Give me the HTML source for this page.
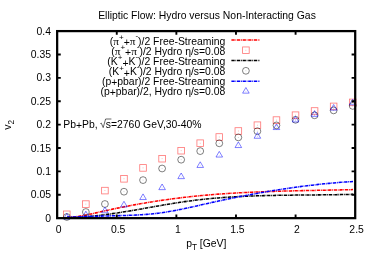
<!DOCTYPE html>
<html><head><meta charset="utf-8"><style>
html,body{margin:0;padding:0;background:#fff;}
svg{display:block;opacity:0.999;will-change:transform;}
text{font-family:"Liberation Sans",sans-serif;font-size:10.4px;fill:#000;}
</style></head><body>
<svg width="374" height="262" viewBox="0 0 374 262">
<rect width="374" height="262" fill="#fff"/>
<text x="207.0" y="19.3" text-anchor="middle">Elliptic Flow: Hydro versus Non-Interacting Gas</text>
<text x="51" y="221.75" text-anchor="end">0</text>
<text x="51" y="198.37" text-anchor="end">0.05</text>
<text x="51" y="174.99" text-anchor="end">0.1</text>
<text x="51" y="151.61" text-anchor="end">0.15</text>
<text x="51" y="128.22" text-anchor="end">0.2</text>
<text x="51" y="104.84" text-anchor="end">0.25</text>
<text x="51" y="81.46" text-anchor="end">0.3</text>
<text x="51" y="58.08" text-anchor="end">0.35</text>
<text x="51" y="34.70" text-anchor="end">0.4</text>
<text x="58.55" y="233.15" text-anchor="middle">0</text>
<text x="118.16" y="233.15" text-anchor="middle">0.5</text>
<text x="177.77" y="233.15" text-anchor="middle">1</text>
<text x="237.38" y="233.15" text-anchor="middle">1.5</text>
<text x="296.99" y="233.15" text-anchor="middle">2</text>
<text x="356.60" y="233.15" text-anchor="middle">2.5</text>
<text x="206.3" y="246.9" text-anchor="middle">p<tspan font-size="8.2" dy="2.6">T</tspan><tspan dy="-2.6"> [GeV]</tspan></text>
<text transform="translate(10.7,124.9) rotate(-90)" text-anchor="middle">v<tspan font-size="8.2" dy="3">2</tspan></text>
<text x="63.3" y="127.8">Pb<tspan dy="1.2">+</tspan><tspan dy="-1.2">Pb,</tspan></text>
<path d="M100.3,123.6 L101.3,123.1 L103.2,127.6 L105.6,119.0 H111.4" fill="none" stroke="#000" stroke-width="0.6"/>
<text x="105.8" y="127.8">s=2760 GeV,30-40%</text>
<text x="225.3" y="44.75" text-anchor="end">(<tspan font-family="Liberation Serif" font-size="11.3">π</tspan><tspan font-size="8" dy="-4.85">+</tspan><tspan dy="6.05">+</tspan><tspan dy="-1.2"><tspan font-family="Liberation Serif" font-size="11.3">π</tspan></tspan><tspan font-size="8" dy="-6.4">-</tspan><tspan dy="6.4">)</tspan>/2 Free-Streaming</text>
<text x="225.3" y="55.00" text-anchor="end">(<tspan font-family="Liberation Serif" font-size="11.3">π</tspan><tspan font-size="8" dy="-4.85">+</tspan><tspan dy="6.05">+</tspan><tspan dy="-1.2"><tspan font-family="Liberation Serif" font-size="11.3">π</tspan></tspan><tspan font-size="8" dy="-6.4">-</tspan><tspan dy="6.4">)</tspan>/2 Hydro η/s=0.08</text>
<text x="225.3" y="65.30" text-anchor="end">(K<tspan font-size="8" dy="-4.85">+</tspan><tspan dy="6.05">+</tspan><tspan dy="-1.2">K</tspan><tspan font-size="8" dy="-6.4">-</tspan><tspan dy="6.4">)</tspan>/2 Free-Streaming</text>
<text x="225.3" y="75.35" text-anchor="end">(K<tspan font-size="8" dy="-4.85">+</tspan><tspan dy="6.05">+</tspan><tspan dy="-1.2">K</tspan><tspan font-size="8" dy="-6.4">-</tspan><tspan dy="6.4">)</tspan>/2 Hydro η/s=0.08</text>
<text x="225.3" y="85.10" text-anchor="end">(p<tspan dy="1.2">+</tspan><tspan dy="-1.2">pbar)</tspan>/2 Free-Streaming</text>
<text x="225.3" y="95.15" text-anchor="end">(p<tspan dy="1.2">+</tspan><tspan dy="-1.2">pbar)</tspan>/2, Hydro η/s=0.08</text>
<path d="M231.4,40.0 H259.8" stroke="#f00" stroke-width="1.55" stroke-dasharray="3.3 0.75 0.8 0.75" fill="none"/>
<path d="M231.4,60.55 H259.8" stroke="#000" stroke-width="1.55" stroke-dasharray="3.3 0.75 0.8 0.75" fill="none"/>
<path d="M231.4,81.2 H259.8" stroke="#00f" stroke-width="1.55" stroke-dasharray="3.3 0.75 0.8 0.75" fill="none"/>
<rect x="242.60" y="46.95" width="6.6" height="6.6" fill="none" stroke="#f00" stroke-width="0.8" stroke-opacity="0.55"/><rect x="245.50" y="49.85" width="0.8" height="0.8" fill="#f00" opacity="0.4"/>
<circle cx="245.90" cy="70.80" r="3.4" fill="none" stroke="#000" stroke-width="0.5"/><rect x="245.50" y="70.40" width="0.8" height="0.8" fill="#000" opacity="0.25"/>
<path d="M245.90,87.50 L249.20,93.15 L242.60,93.15 Z" fill="none" stroke="#00f" stroke-width="0.5"/><rect x="245.50" y="91.10" width="0.8" height="0.8" fill="#00f" opacity="0.25"/>
<path d="M67.00,217.42 L69.40,217.32 L71.81,217.16 L74.21,216.92 L76.61,216.63 L79.02,216.28 L81.42,215.88 L83.82,215.44 L86.23,214.97 L88.63,214.47 L91.03,213.95 L93.44,213.41 L95.84,212.87 L98.24,212.31 L100.65,211.77 L103.05,211.22 L105.45,210.69 L107.86,210.16 L110.26,209.64 L112.66,209.13 L115.07,208.63 L117.47,208.13 L119.87,207.64 L122.28,207.16 L124.68,206.69 L127.08,206.22 L129.49,205.76 L131.89,205.31 L134.29,204.87 L136.70,204.43 L139.10,204.00 L141.50,203.58 L143.91,203.17 L146.31,202.76 L148.71,202.36 L151.12,201.97 L153.52,201.59 L155.92,201.21 L158.33,200.85 L160.73,200.49 L163.13,200.13 L165.54,199.79 L167.94,199.45 L170.34,199.12 L172.75,198.80 L175.15,198.49 L177.55,198.18 L179.96,197.88 L182.36,197.59 L184.76,197.31 L187.17,197.04 L189.57,196.77 L191.97,196.51 L194.38,196.26 L196.78,196.02 L199.18,195.78 L201.59,195.55 L203.99,195.33 L206.39,195.12 L208.80,194.91 L211.20,194.71 L213.61,194.51 L216.01,194.33 L218.41,194.14 L220.82,193.97 L223.22,193.80 L225.62,193.64 L228.03,193.48 L230.43,193.33 L232.83,193.18 L235.24,193.04 L237.64,192.90 L240.04,192.77 L242.45,192.64 L244.85,192.52 L247.25,192.40 L249.66,192.29 L252.06,192.18 L254.46,192.08 L256.87,191.98 L259.27,191.88 L261.67,191.79 L264.08,191.70 L266.48,191.61 L268.88,191.53 L271.29,191.45 L273.69,191.38 L276.09,191.30 L278.50,191.23 L280.90,191.16 L283.30,191.10 L285.71,191.03 L288.11,190.97 L290.51,190.91 L292.92,190.86 L295.32,190.80 L297.72,190.75 L300.13,190.69 L302.53,190.64 L304.93,190.59 L307.34,190.54 L309.74,190.49 L312.14,190.44 L314.55,190.40 L316.95,190.35 L319.35,190.30 L321.76,190.26 L324.16,190.21 L326.56,190.16 L328.97,190.12 L331.37,190.07 L333.77,190.02 L336.18,189.97 L338.58,189.92 L340.98,189.87 L343.39,189.82 L345.79,189.77 L348.19,189.71 L350.60,189.65 L353.00,189.60" stroke="#f00" stroke-width="1.55" stroke-dasharray="3.3 0.75 0.8 0.75" fill="none"/>
<path d="M67.00,217.63 L69.40,217.59 L71.81,217.53 L74.21,217.44 L76.61,217.33 L79.02,217.21 L81.42,217.06 L83.82,216.89 L86.23,216.71 L88.63,216.50 L91.03,216.28 L93.44,216.04 L95.84,215.79 L98.24,215.52 L100.65,215.24 L103.05,214.94 L105.45,214.63 L107.86,214.31 L110.26,213.98 L112.66,213.63 L115.07,213.28 L117.47,212.91 L119.87,212.54 L122.28,212.15 L124.68,211.77 L127.08,211.37 L129.49,210.97 L131.89,210.56 L134.29,210.15 L136.70,209.73 L139.10,209.31 L141.50,208.89 L143.91,208.46 L146.31,208.04 L148.71,207.61 L151.12,207.19 L153.52,206.76 L155.92,206.34 L158.33,205.92 L160.73,205.50 L163.13,205.08 L165.54,204.67 L167.94,204.27 L170.34,203.87 L172.75,203.48 L175.15,203.09 L177.55,202.71 L179.96,202.34 L182.36,201.98 L184.76,201.63 L187.17,201.29 L189.57,200.97 L191.97,200.65 L194.38,200.35 L196.78,200.05 L199.18,199.77 L201.59,199.50 L203.99,199.24 L206.39,199.00 L208.80,198.76 L211.20,198.53 L213.61,198.31 L216.01,198.11 L218.41,197.91 L220.82,197.72 L223.22,197.54 L225.62,197.37 L228.03,197.20 L230.43,197.05 L232.83,196.90 L235.24,196.77 L237.64,196.63 L240.04,196.51 L242.45,196.39 L244.85,196.28 L247.25,196.18 L249.66,196.08 L252.06,195.99 L254.46,195.91 L256.87,195.83 L259.27,195.75 L261.67,195.68 L264.08,195.62 L266.48,195.56 L268.88,195.50 L271.29,195.45 L273.69,195.40 L276.09,195.35 L278.50,195.31 L280.90,195.27 L283.30,195.24 L285.71,195.21 L288.11,195.18 L290.51,195.15 L292.92,195.12 L295.32,195.09 L297.72,195.07 L300.13,195.05 L302.53,195.03 L304.93,195.00 L307.34,194.98 L309.74,194.96 L312.14,194.94 L314.55,194.92 L316.95,194.90 L319.35,194.87 L321.76,194.85 L324.16,194.82 L326.56,194.80 L328.97,194.77 L331.37,194.74 L333.77,194.70 L336.18,194.67 L338.58,194.63 L340.98,194.58 L343.39,194.54 L345.79,194.49 L348.19,194.44 L350.60,194.38 L353.00,194.32" stroke="#000" stroke-width="1.55" stroke-dasharray="3.3 0.75 0.8 0.75" fill="none"/>
<path d="M67.00,217.00 L69.40,217.00 L71.81,216.98 L74.21,216.95 L76.61,216.90 L79.02,216.84 L81.42,216.78 L83.82,216.70 L86.23,216.62 L88.63,216.54 L91.03,216.45 L93.44,216.36 L95.84,216.28 L98.24,216.20 L100.65,216.12 L103.05,216.05 L105.45,215.98 L107.86,215.92 L110.26,215.86 L112.66,215.81 L115.07,215.75 L117.47,215.69 L119.87,215.63 L122.28,215.56 L124.68,215.49 L127.08,215.41 L129.49,215.32 L131.89,215.22 L134.29,215.12 L136.70,215.00 L139.10,214.86 L141.50,214.72 L143.91,214.55 L146.31,214.37 L148.71,214.17 L151.12,213.95 L153.52,213.71 L155.92,213.45 L158.33,213.16 L160.73,212.85 L163.13,212.51 L165.54,212.15 L167.94,211.77 L170.34,211.36 L172.75,210.94 L175.15,210.49 L177.55,210.03 L179.96,209.56 L182.36,209.07 L184.76,208.57 L187.17,208.05 L189.57,207.53 L191.97,207.00 L194.38,206.47 L196.78,205.93 L199.18,205.38 L201.59,204.84 L203.99,204.29 L206.39,203.75 L208.80,203.20 L211.20,202.66 L213.61,202.13 L216.01,201.60 L218.41,201.08 L220.82,200.56 L223.22,200.04 L225.62,199.54 L228.03,199.03 L230.43,198.53 L232.83,198.04 L235.24,197.55 L237.64,197.07 L240.04,196.60 L242.45,196.12 L244.85,195.66 L247.25,195.20 L249.66,194.75 L252.06,194.30 L254.46,193.86 L256.87,193.42 L259.27,192.99 L261.67,192.56 L264.08,192.15 L266.48,191.73 L268.88,191.33 L271.29,190.93 L273.69,190.54 L276.09,190.15 L278.50,189.77 L280.90,189.39 L283.30,189.03 L285.71,188.67 L288.11,188.31 L290.51,187.96 L292.92,187.62 L295.32,187.29 L297.72,186.96 L300.13,186.64 L302.53,186.33 L304.93,186.03 L307.34,185.73 L309.74,185.44 L312.14,185.15 L314.55,184.88 L316.95,184.61 L319.35,184.35 L321.76,184.09 L324.16,183.85 L326.56,183.61 L328.97,183.38 L331.37,183.15 L333.77,182.94 L336.18,182.73 L338.58,182.53 L340.98,182.34 L343.39,182.15 L345.79,181.98 L348.19,181.81 L350.60,181.65 L353.00,181.50" stroke="#00f" stroke-width="1.55" stroke-dasharray="3.3 0.75 0.8 0.75" fill="none"/>
<rect x="63.50" y="211.00" width="6.6" height="6.6" fill="none" stroke="#f00" stroke-width="0.8" stroke-opacity="0.55"/><rect x="66.40" y="213.90" width="0.8" height="0.8" fill="#f00" opacity="0.4"/>
<rect x="82.56" y="200.80" width="6.6" height="6.6" fill="none" stroke="#f00" stroke-width="0.8" stroke-opacity="0.55"/><rect x="85.46" y="203.70" width="0.8" height="0.8" fill="#f00" opacity="0.4"/>
<rect x="101.62" y="187.30" width="6.6" height="6.6" fill="none" stroke="#f00" stroke-width="0.8" stroke-opacity="0.55"/><rect x="104.52" y="190.20" width="0.8" height="0.8" fill="#f00" opacity="0.4"/>
<rect x="120.68" y="175.50" width="6.6" height="6.6" fill="none" stroke="#f00" stroke-width="0.8" stroke-opacity="0.55"/><rect x="123.58" y="178.40" width="0.8" height="0.8" fill="#f00" opacity="0.4"/>
<rect x="139.74" y="164.60" width="6.6" height="6.6" fill="none" stroke="#f00" stroke-width="0.8" stroke-opacity="0.55"/><rect x="142.64" y="167.50" width="0.8" height="0.8" fill="#f00" opacity="0.4"/>
<rect x="158.80" y="155.40" width="6.6" height="6.6" fill="none" stroke="#f00" stroke-width="0.8" stroke-opacity="0.55"/><rect x="161.70" y="158.30" width="0.8" height="0.8" fill="#f00" opacity="0.4"/>
<rect x="177.86" y="147.40" width="6.6" height="6.6" fill="none" stroke="#f00" stroke-width="0.8" stroke-opacity="0.55"/><rect x="180.76" y="150.30" width="0.8" height="0.8" fill="#f00" opacity="0.4"/>
<rect x="196.92" y="139.90" width="6.6" height="6.6" fill="none" stroke="#f00" stroke-width="0.8" stroke-opacity="0.55"/><rect x="199.82" y="142.80" width="0.8" height="0.8" fill="#f00" opacity="0.4"/>
<rect x="215.98" y="133.70" width="6.6" height="6.6" fill="none" stroke="#f00" stroke-width="0.8" stroke-opacity="0.55"/><rect x="218.88" y="136.60" width="0.8" height="0.8" fill="#f00" opacity="0.4"/>
<rect x="235.04" y="127.70" width="6.6" height="6.6" fill="none" stroke="#f00" stroke-width="0.8" stroke-opacity="0.55"/><rect x="237.94" y="130.60" width="0.8" height="0.8" fill="#f00" opacity="0.4"/>
<rect x="254.10" y="121.90" width="6.6" height="6.6" fill="none" stroke="#f00" stroke-width="0.8" stroke-opacity="0.55"/><rect x="257.00" y="124.80" width="0.8" height="0.8" fill="#f00" opacity="0.4"/>
<rect x="273.16" y="116.80" width="6.6" height="6.6" fill="none" stroke="#f00" stroke-width="0.8" stroke-opacity="0.55"/><rect x="276.06" y="119.70" width="0.8" height="0.8" fill="#f00" opacity="0.4"/>
<rect x="292.22" y="111.90" width="6.6" height="6.6" fill="none" stroke="#f00" stroke-width="0.8" stroke-opacity="0.55"/><rect x="295.12" y="114.80" width="0.8" height="0.8" fill="#f00" opacity="0.4"/>
<rect x="311.28" y="107.70" width="6.6" height="6.6" fill="none" stroke="#f00" stroke-width="0.8" stroke-opacity="0.55"/><rect x="314.18" y="110.60" width="0.8" height="0.8" fill="#f00" opacity="0.4"/>
<rect x="330.34" y="103.10" width="6.6" height="6.6" fill="none" stroke="#f00" stroke-width="0.8" stroke-opacity="0.55"/><rect x="333.24" y="106.00" width="0.8" height="0.8" fill="#f00" opacity="0.4"/>
<rect x="349.40" y="99.10" width="6.6" height="6.6" fill="none" stroke="#f00" stroke-width="0.8" stroke-opacity="0.55"/><rect x="352.30" y="102.00" width="0.8" height="0.8" fill="#f00" opacity="0.4"/>
<circle cx="66.80" cy="217.00" r="3.4" fill="none" stroke="#000" stroke-width="0.5"/><rect x="66.40" y="216.60" width="0.8" height="0.8" fill="#000" opacity="0.25"/>
<circle cx="85.86" cy="212.00" r="3.4" fill="none" stroke="#000" stroke-width="0.5"/><rect x="85.46" y="211.60" width="0.8" height="0.8" fill="#000" opacity="0.25"/>
<circle cx="104.92" cy="204.00" r="3.4" fill="none" stroke="#000" stroke-width="0.5"/><rect x="104.52" y="203.60" width="0.8" height="0.8" fill="#000" opacity="0.25"/>
<circle cx="123.98" cy="191.70" r="3.4" fill="none" stroke="#000" stroke-width="0.5"/><rect x="123.58" y="191.30" width="0.8" height="0.8" fill="#000" opacity="0.25"/>
<circle cx="143.04" cy="180.10" r="3.4" fill="none" stroke="#000" stroke-width="0.5"/><rect x="142.64" y="179.70" width="0.8" height="0.8" fill="#000" opacity="0.25"/>
<circle cx="162.10" cy="168.50" r="3.4" fill="none" stroke="#000" stroke-width="0.5"/><rect x="161.70" y="168.10" width="0.8" height="0.8" fill="#000" opacity="0.25"/>
<circle cx="181.16" cy="159.70" r="3.4" fill="none" stroke="#000" stroke-width="0.5"/><rect x="180.76" y="159.30" width="0.8" height="0.8" fill="#000" opacity="0.25"/>
<circle cx="200.22" cy="151.10" r="3.4" fill="none" stroke="#000" stroke-width="0.5"/><rect x="199.82" y="150.70" width="0.8" height="0.8" fill="#000" opacity="0.25"/>
<circle cx="219.28" cy="143.30" r="3.4" fill="none" stroke="#000" stroke-width="0.5"/><rect x="218.88" y="142.90" width="0.8" height="0.8" fill="#000" opacity="0.25"/>
<circle cx="238.34" cy="137.40" r="3.4" fill="none" stroke="#000" stroke-width="0.5"/><rect x="237.94" y="137.00" width="0.8" height="0.8" fill="#000" opacity="0.25"/>
<circle cx="257.40" cy="131.20" r="3.4" fill="none" stroke="#000" stroke-width="0.5"/><rect x="257.00" y="130.80" width="0.8" height="0.8" fill="#000" opacity="0.25"/>
<circle cx="276.46" cy="125.40" r="3.4" fill="none" stroke="#000" stroke-width="0.5"/><rect x="276.06" y="125.00" width="0.8" height="0.8" fill="#000" opacity="0.25"/>
<circle cx="295.52" cy="119.80" r="3.4" fill="none" stroke="#000" stroke-width="0.5"/><rect x="295.12" y="119.40" width="0.8" height="0.8" fill="#000" opacity="0.25"/>
<circle cx="314.58" cy="115.30" r="3.4" fill="none" stroke="#000" stroke-width="0.5"/><rect x="314.18" y="114.90" width="0.8" height="0.8" fill="#000" opacity="0.25"/>
<circle cx="333.64" cy="110.40" r="3.4" fill="none" stroke="#000" stroke-width="0.5"/><rect x="333.24" y="110.00" width="0.8" height="0.8" fill="#000" opacity="0.25"/>
<circle cx="352.70" cy="105.90" r="3.4" fill="none" stroke="#000" stroke-width="0.5"/><rect x="352.30" y="105.50" width="0.8" height="0.8" fill="#000" opacity="0.25"/>
<path d="M66.80,213.40 L70.10,219.05 L63.50,219.05 Z" fill="none" stroke="#00f" stroke-width="0.5"/><rect x="66.40" y="217.00" width="0.8" height="0.8" fill="#00f" opacity="0.25"/>
<path d="M85.86,211.20 L89.16,216.85 L82.56,216.85 Z" fill="none" stroke="#00f" stroke-width="0.5"/><rect x="85.46" y="214.80" width="0.8" height="0.8" fill="#00f" opacity="0.25"/>
<path d="M104.92,207.10 L108.22,212.75 L101.62,212.75 Z" fill="none" stroke="#00f" stroke-width="0.5"/><rect x="104.52" y="210.70" width="0.8" height="0.8" fill="#00f" opacity="0.25"/>
<path d="M123.98,201.30 L127.28,206.95 L120.68,206.95 Z" fill="none" stroke="#00f" stroke-width="0.5"/><rect x="123.58" y="204.90" width="0.8" height="0.8" fill="#00f" opacity="0.25"/>
<path d="M143.04,193.90 L146.34,199.55 L139.74,199.55 Z" fill="none" stroke="#00f" stroke-width="0.5"/><rect x="142.64" y="197.50" width="0.8" height="0.8" fill="#00f" opacity="0.25"/>
<path d="M162.10,184.00 L165.40,189.65 L158.80,189.65 Z" fill="none" stroke="#00f" stroke-width="0.5"/><rect x="161.70" y="187.60" width="0.8" height="0.8" fill="#00f" opacity="0.25"/>
<path d="M181.16,173.00 L184.46,178.65 L177.86,178.65 Z" fill="none" stroke="#00f" stroke-width="0.5"/><rect x="180.76" y="176.60" width="0.8" height="0.8" fill="#00f" opacity="0.25"/>
<path d="M200.22,161.80 L203.52,167.45 L196.92,167.45 Z" fill="none" stroke="#00f" stroke-width="0.5"/><rect x="199.82" y="165.40" width="0.8" height="0.8" fill="#00f" opacity="0.25"/>
<path d="M219.28,151.40 L222.58,157.05 L215.98,157.05 Z" fill="none" stroke="#00f" stroke-width="0.5"/><rect x="218.88" y="155.00" width="0.8" height="0.8" fill="#00f" opacity="0.25"/>
<path d="M238.34,141.90 L241.64,147.55 L235.04,147.55 Z" fill="none" stroke="#00f" stroke-width="0.5"/><rect x="237.94" y="145.50" width="0.8" height="0.8" fill="#00f" opacity="0.25"/>
<path d="M257.40,132.60 L260.70,138.25 L254.10,138.25 Z" fill="none" stroke="#00f" stroke-width="0.5"/><rect x="257.00" y="136.20" width="0.8" height="0.8" fill="#00f" opacity="0.25"/>
<path d="M276.46,123.90 L279.76,129.55 L273.16,129.55 Z" fill="none" stroke="#00f" stroke-width="0.5"/><rect x="276.06" y="127.50" width="0.8" height="0.8" fill="#00f" opacity="0.25"/>
<path d="M295.52,116.30 L298.82,121.95 L292.22,121.95 Z" fill="none" stroke="#00f" stroke-width="0.5"/><rect x="295.12" y="119.90" width="0.8" height="0.8" fill="#00f" opacity="0.25"/>
<path d="M314.58,110.70 L317.88,116.35 L311.28,116.35 Z" fill="none" stroke="#00f" stroke-width="0.5"/><rect x="314.18" y="114.30" width="0.8" height="0.8" fill="#00f" opacity="0.25"/>
<path d="M333.64,104.50 L336.94,110.15 L330.34,110.15 Z" fill="none" stroke="#00f" stroke-width="0.5"/><rect x="333.24" y="108.10" width="0.8" height="0.8" fill="#00f" opacity="0.25"/>
<path d="M352.70,99.10 L356.00,104.75 L349.40,104.75 Z" fill="none" stroke="#00f" stroke-width="0.5"/><rect x="352.30" y="102.70" width="0.8" height="0.8" fill="#00f" opacity="0.25"/>
<path d="M57.15,194.77 h3.6 M355.2,194.77 h-3.6" stroke="#000" stroke-width="1.9"/>
<path d="M57.15,171.39 h3.6 M355.2,171.39 h-3.6" stroke="#000" stroke-width="1.9"/>
<path d="M57.15,148.01 h3.6 M355.2,148.01 h-3.6" stroke="#000" stroke-width="1.9"/>
<path d="M57.15,124.62 h3.6 M355.2,124.62 h-3.6" stroke="#000" stroke-width="1.9"/>
<path d="M57.15,101.24 h3.6 M355.2,101.24 h-3.6" stroke="#000" stroke-width="1.9"/>
<path d="M57.15,77.86 h3.6 M355.2,77.86 h-3.6" stroke="#000" stroke-width="1.9"/>
<path d="M57.15,54.48 h3.6 M355.2,54.48 h-3.6" stroke="#000" stroke-width="1.9"/>
<path d="M116.76,218.15 v-3.6 M116.76,31.1 v3.6" stroke="#000" stroke-width="1.9"/>
<path d="M176.37,218.15 v-3.6 M176.37,31.1 v3.6" stroke="#000" stroke-width="1.9"/>
<path d="M235.98,218.15 v-3.6 M235.98,31.1 v3.6" stroke="#000" stroke-width="1.9"/>
<path d="M295.59,218.15 v-3.6 M295.59,31.1 v3.6" stroke="#000" stroke-width="1.9"/>
<rect x="57.15" y="31.1" width="298.05" height="187.05" fill="none" stroke="#000" stroke-width="2.25"/>
</svg></body></html>
